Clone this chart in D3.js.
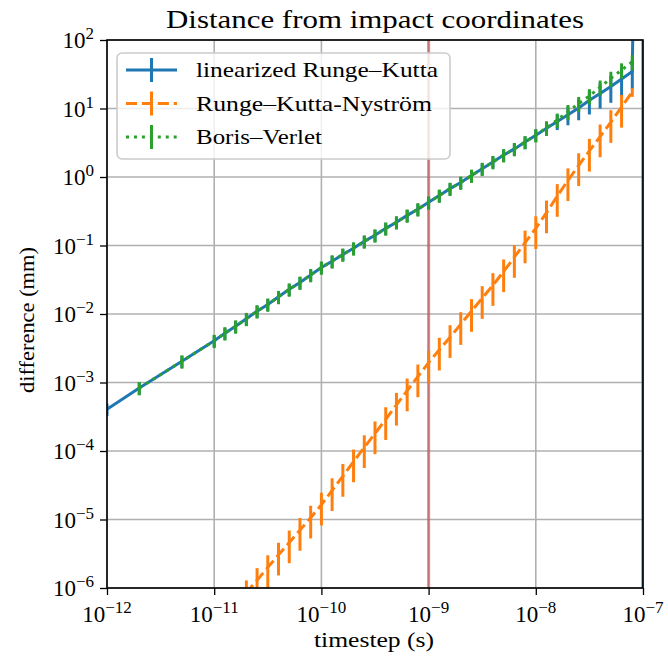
<!DOCTYPE html>
<html>
<head>
<meta charset="utf-8">
<script src="https://cdn.jsdelivr.net/npm/d3@7"></script>
<style>
    body { margin: 0; background: #fff; }
    text { font-family: "Liberation Serif", "Times New Roman", serif; fill: #000; }
</style>
</head>
<body>
<div id="chart"></div>
<script>
// timesteps (s) shared by the three integrators
var timesteps = [2e-12, 5e-12,
    1e-11, 1.259e-11, 1.585e-11, 1.995e-11, 2.512e-11, 3.162e-11, 3.981e-11, 5.012e-11, 6.310e-11, 7.943e-11,
    1e-10, 1.259e-10, 1.585e-10, 1.995e-10, 2.512e-10, 3.162e-10, 3.981e-10, 5.012e-10, 6.310e-10, 7.943e-10,
    1e-9, 1.259e-9, 1.585e-9, 1.995e-9, 2.512e-9, 3.162e-9, 3.981e-9, 5.012e-9, 6.310e-9, 7.943e-9,
    1e-8, 1.259e-8, 1.585e-8, 1.995e-8, 2.512e-8, 3.162e-8, 3.981e-8, 5.012e-8, 6.310e-8, 7.943e-8];

// linearized Runge-Kutta: one extra step at each end
var lrkTimesteps = [1e-12].concat(timesteps, [1e-7]);
var lrkValues = [4.07e-4, 8.32e-4, 2.04e-3,
    4.07e-3, 5.25e-3, 6.61e-3, 8.51e-3, 1.10e-2, 1.38e-2, 1.78e-2, 2.29e-2, 2.88e-2, 3.72e-2,
    4.79e-2, 5.89e-2, 7.41e-2, 9.12e-2, 0.115, 0.141, 0.178, 0.219, 0.275, 0.339,
    0.427, 0.537, 0.676, 0.832, 1.05, 1.32, 1.66, 2.09, 2.57, 3.24,
    4.07, 5.13, 6.46, 8.13, 10.2, 13.2, 16.6, 20.9, 26.9, 34.7,
    1e13];
var lrkRelErr = [0.2, 0.2, 0.2,
    0.2, 0.2, 0.2, 0.2, 0.2, 0.2, 0.2, 0.2, 0.2, 0.2,
    0.2, 0.2, 0.2, 0.2, 0.2, 0.2, 0.2, 0.2, 0.2, 0.2,
    0.2, 0.2, 0.2, 0.2, 0.2, 0.2, 0.2, 0.2, 0.2, 0.2,
    0.2, 0.22, 0.25, 0.3, 0.34, 0.38, 0.4, 0.42, 0.45, 0.45,
    1.0];

// Runge-Kutta-Nystrom starts at 1e-11
var rknTimesteps = timesteps.slice(2);
var rknValues = [2.5e-7, 3.9e-7, 5.9e-7, 8.6e-7, 1.3e-6, 2.0e-6, 3.05e-6, 4.6e-6, 7.0e-6, 1.06e-5,
    1.64e-5, 2.66e-5, 4.3e-5, 7.0e-5, 1.13e-4, 1.8e-4, 2.9e-4, 4.7e-4, 7.6e-4, 1.22e-3,
    1.95e-3, 3.0e-3, 4.57e-3, 7.08e-3, 1.10e-2, 1.70e-2, 2.63e-2, 4.17e-2, 6.76e-2, 0.110,
    0.178, 0.302, 0.525, 0.891, 1.48, 2.40, 3.89, 6.31, 10.5, 17.4];
var rknRelErr = [0.5, 0.5, 0.5, 0.5, 0.5, 0.5, 0.5, 0.5, 0.5, 0.5,
    0.5, 0.5, 0.5, 0.5, 0.5, 0.5, 0.5, 0.5, 0.5, 0.5,
    0.5, 0.5, 0.5, 0.5, 0.5, 0.5, 0.5, 0.5, 0.5, 0.5,
    0.5, 0.5, 0.5, 0.5, 0.5, 0.5, 0.5, 0.5, 0.5, 0.15];

// Boris-Verlet
var bvTimesteps = timesteps;
var bvValues = [8.32e-4, 2.04e-3,
    4.07e-3, 5.25e-3, 6.61e-3, 8.51e-3, 1.10e-2, 1.38e-2, 1.78e-2, 2.29e-2, 2.88e-2, 3.72e-2,
    4.79e-2, 5.89e-2, 7.41e-2, 9.12e-2, 0.115, 0.141, 0.178, 0.219, 0.275, 0.339,
    0.427, 0.537, 0.676, 0.832, 1.05, 1.32, 1.66, 2.09, 2.57, 3.24,
    4.10, 5.25, 6.8, 9.0, 11.8, 15.3, 20.5, 27.5, 36.5, 48.0];
var bvRelErr = [0.22, 0.22,
    0.22, 0.22, 0.22, 0.22, 0.22, 0.22, 0.22, 0.22, 0.22, 0.22,
    0.22, 0.22, 0.22, 0.22, 0.22, 0.22, 0.22, 0.22, 0.22, 0.22,
    0.22, 0.22, 0.22, 0.22, 0.22, 0.22, 0.22, 0.22, 0.22, 0.22,
    0.22, 0.24, 0.24, 0.25, 0.25, 0.25, 0.25, 0.25, 0.25, 0.25];

var seriesNames = ["linearized Runge\u2013Kutta", "Runge\u2013Kutta-Nystr\u00f6m", "Boris\u2013Verlet"];
var seriesColors = ["#1f77b4", "#ff7f0e", "#2ca02c"];
var seriesDash = [null, "11.1,4.8", "3,4.95"];
var legendTextWidth = [242, 236, 126];

var xTicks = [1e-12, 1e-11, 1e-10, 1e-9, 1e-8, 1e-7];
var xTickExp = ["\u221212", "\u221211", "\u221210", "\u22129", "\u22128", "\u22127"];
var yTicks = [1e2, 1e1, 1e0, 1e-1, 1e-2, 1e-3, 1e-4, 1e-5, 1e-6];
var yTickExp = ["2", "1", "0", "\u22121", "\u22122", "\u22123", "\u22124", "\u22125", "\u22126"];
var markerTime = 1e-9;

var series = [
    { t: lrkTimesteps, v: lrkValues, e: lrkRelErr },
    { t: rknTimesteps, v: rknValues, e: rknRelErr },
    { t: bvTimesteps, v: bvValues, e: bvRelErr }
];

var margin = { top: 40, right: 25, bottom: 70, left: 107 };
var W = 668, H = 658;
var width = W - margin.left - margin.right,
    height = H - margin.top - margin.bottom;

var svg = d3.select("#chart").append("svg")
    .attr("width", W)
    .attr("height", H);

var g = svg.append("g")
    .attr("transform", "translate(" + margin.left + "," + margin.top + ")");

// Scales
var x = d3.scaleLog().domain([1e-12, 1e-7]).range([0, width]);
var y = d3.scaleLog().domain([1e-6, 1e2]).range([height, 0]);

svg.append("defs").append("clipPath").attr("id", "plotclip")
    .append("rect").attr("width", width).attr("height", height);

// Grid
g.append("g").selectAll("line").data(xTicks).enter().append("line")
    .attr("x1", function(d) { return x(d); }).attr("x2", function(d) { return x(d); })
    .attr("y1", 0).attr("y2", height)
    .attr("stroke", "#b0b0b0").attr("stroke-width", 1.6);
g.append("g").selectAll("line").data(yTicks).enter().append("line")
    .attr("y1", function(d) { return y(d); }).attr("y2", function(d) { return y(d); })
    .attr("x1", 0).attr("x2", width)
    .attr("stroke", "#b0b0b0").attr("stroke-width", 1.6);

var plot = g.append("g").attr("clip-path", "url(#plotclip)");

// reference timestep
plot.append("line")
    .attr("x1", x(markerTime)).attr("x2", x(markerTime))
    .attr("y1", 0).attr("y2", height)
    .attr("stroke", "#d62728").attr("stroke-opacity", 0.45).attr("stroke-width", 3.2);

var line = d3.line()
    .x(function(d) { return x(d[0]); })
    .y(function(d) { return y(d[1]); });

series.forEach(function(s, k) {
    var pts = s.t.map(function(t, i) { return [t, s.v[i], s.v[i] * s.e[i]]; });
    plot.append("path")
        .datum(pts)
        .attr("d", line)
        .attr("fill", "none")
        .attr("stroke", seriesColors[k])
        .attr("stroke-width", 3)
        .attr("stroke-dasharray", seriesDash[k]);
    plot.append("g").selectAll("line").data(pts).enter().append("line")
        .attr("x1", function(d) { return x(d[0]); })
        .attr("x2", function(d) { return x(d[0]); })
        .attr("y1", function(d) { return y(d[1] + d[2]); })
        .attr("y2", function(d) {
            var lo = d[1] - d[2];
            return lo > 0 ? y(lo) : height + 10;
        })
        .attr("stroke", seriesColors[k])
        .attr("stroke-width", 3);
});

// Axes
var xAxis = d3.axisBottom(x).tickValues(xTicks).tickSize(7).tickFormat("");
var yAxis = d3.axisLeft(y).tickValues(yTicks).tickSize(7).tickFormat("");

var minorX = [], minorY = [];
[-12, -11, -10, -9, -8].forEach(function(e) {
    for (var m = 2; m < 10; m++) minorX.push(m * Math.pow(10, e));
});
[-6, -5, -4, -3, -2, -1, 0, 1].forEach(function(e) {
    for (var m = 2; m < 10; m++) minorY.push(m * Math.pow(10, e));
});

var xAxisGroup = g.append("g").attr("transform", "translate(0," + height + ")");
xAxisGroup.call(d3.axisBottom(x).tickValues(minorX).tickSize(4).tickFormat(""));
xAxisGroup.call(xAxis);
var yAxisGroup = g.append("g");
yAxisGroup.call(d3.axisLeft(y).tickValues(minorY).tickSize(4).tickFormat(""));
yAxisGroup.call(yAxis);

g.selectAll(".domain").remove();
g.selectAll(".tick line").attr("stroke", "#000").attr("stroke-width", 1.3);

// tick labels 10^n
xTicks.forEach(function(t, i) {
    var tx = g.append("text")
        .attr("x", x(t)).attr("y", height + 34)
        .attr("text-anchor", "middle")
        .style("font-size", "23px");
    tx.append("tspan").text("10");
    tx.append("tspan").attr("dy", -9).style("font-size", "17px").text(xTickExp[i]);
});
yTicks.forEach(function(t, i) {
    var ty = g.append("text")
        .attr("x", -13).attr("y", y(t) + 8)
        .attr("text-anchor", "end")
        .style("font-size", "23px");
    ty.append("tspan").text("10");
    ty.append("tspan").attr("dy", -9).style("font-size", "17px").text(yTickExp[i]);
});

// frame
g.append("rect")
    .attr("width", width).attr("height", height)
    .attr("fill", "none").attr("stroke", "#000").attr("stroke-width", 1.6);

// labels
svg.append("text")
    .attr("x", 166).attr("y", 28)
    .attr("textLength", 418).attr("lengthAdjust", "spacingAndGlyphs")
    .style("font-size", "25px")
    .text("Distance from impact coordinates");
svg.append("text")
    .attr("x", 314).attr("y", 647)
    .attr("textLength", 120).attr("lengthAdjust", "spacingAndGlyphs")
    .style("font-size", "21px")
    .text("timestep (s)");
svg.append("text")
    .attr("transform", "translate(34,393) rotate(-90)")
    .attr("textLength", 146).attr("lengthAdjust", "spacingAndGlyphs")
    .style("font-size", "21px")
    .text("difference (mm)");

// Legend
var legend = svg.append("g");
legend.append("rect")
    .attr("x", 117).attr("y", 53).attr("width", 333).attr("height", 106).attr("rx", 5)
    .attr("fill", "#fff").attr("fill-opacity", 0.8)
    .attr("stroke", "#cccccc").attr("stroke-width", 1.6);
seriesNames.forEach(function(name, k) {
    var ly = 70 + k * 33.5;
    legend.append("line")
        .attr("x1", 126).attr("x2", 177).attr("y1", ly).attr("y2", ly)
        .attr("stroke", seriesColors[k]).attr("stroke-width", 3)
        .attr("stroke-dasharray", seriesDash[k]);
    legend.append("line")
        .attr("x1", 151.5).attr("x2", 151.5).attr("y1", ly - 12).attr("y2", ly + 12)
        .attr("stroke", seriesColors[k]).attr("stroke-width", 3);
    legend.append("text")
        .attr("x", 196).attr("y", ly + 7)
        .attr("textLength", legendTextWidth[k]).attr("lengthAdjust", "spacingAndGlyphs")
        .style("font-size", "21px")
        .text(name);
});
</script>
</body>
</html>
